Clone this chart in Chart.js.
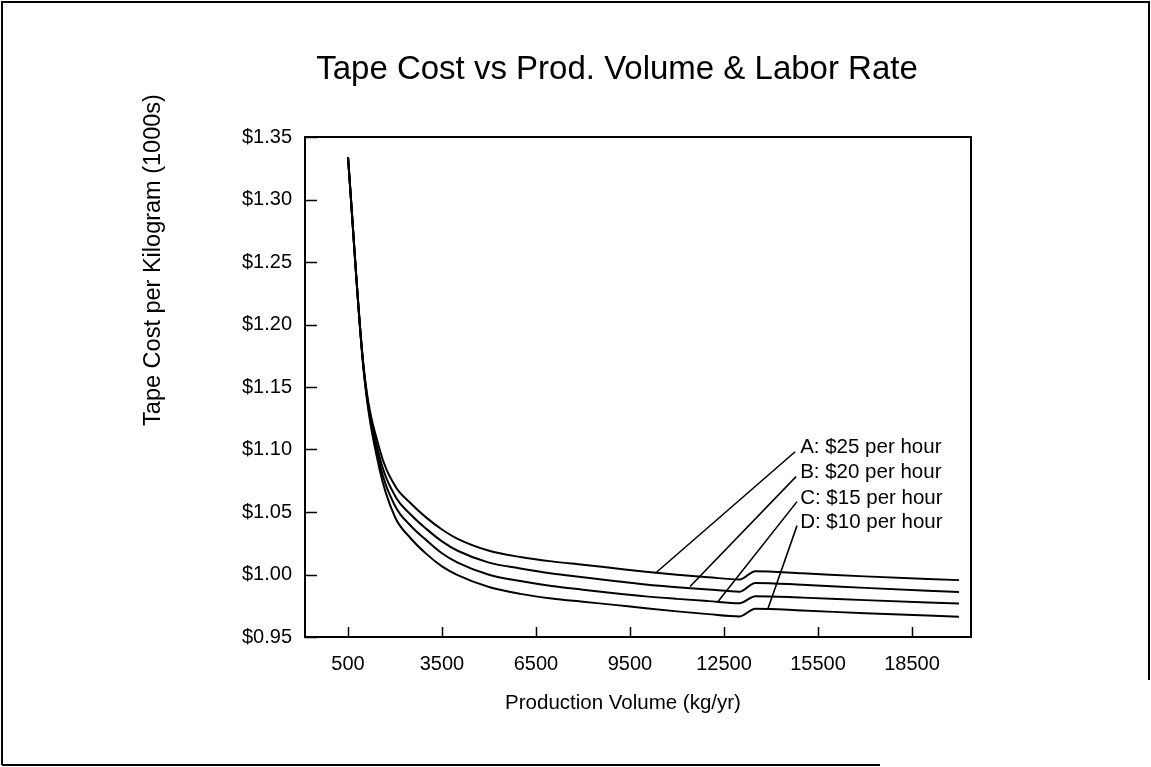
<!DOCTYPE html>
<html>
<head>
<meta charset="utf-8">
<script src="https://cdn.jsdelivr.net/npm/chart.js@4/dist/chart.umd.min.js"></script>
<style>
    html, body { margin: 0; padding: 0; background: #fff; }
    #wrap { width: 1151px; height: 767px; position: relative; }
</style>
</head>
<body>
<div id="wrap"><canvas id="tapeChart" width="1151" height="767"></canvas></div>
<script>
// production volume (kg/yr) and cost per kg for each labor rate
const volumes = [500, 1000, 1500, 2000, 2500, 3000, 3500, 4000, 5000, 6000, 7000, 8000, 9000, 10000, 11000, 12000, 13000, 13500, 15000, 17000, 20000];
const costA = [1.334, 1.166, 1.101, 1.071, 1.057, 1.0455, 1.036, 1.0285, 1.019, 1.014, 1.0105, 1.0078, 1.0050, 1.0022, 0.9998, 0.9978, 0.996, 1.0027, 1.001, 0.9985, 0.9955];
const costB = [1.334, 1.165, 1.095, 1.063, 1.048, 1.0365, 1.0265, 1.019, 1.0095, 1.0048, 1.0008, 0.9978, 0.9948, 0.9920, 0.9898, 0.9880, 0.9863, 0.9933, 0.9918, 0.9893, 0.986];
const costC = [1.334, 1.164, 1.090, 1.055, 1.039, 1.0275, 1.017, 1.0095, 0.9998, 0.9948, 0.9908, 0.9878, 0.9850, 0.9825, 0.9805, 0.9787, 0.977, 0.9827, 0.9815, 0.9795, 0.9768];
const costD = [1.334, 1.163, 1.085, 1.046, 1.029, 1.0165, 1.0065, 0.9995, 0.990, 0.9845, 0.9808, 0.9782, 0.9757, 0.9730, 0.9705, 0.9683, 0.9665, 0.9726, 0.9712, 0.969, 0.9662];

const xTicks = [500, 3500, 6500, 9500, 12500, 15500, 18500];
const yTicks = [0.95, 1.00, 1.05, 1.10, 1.15, 1.20, 1.25, 1.30, 1.35];

// callout labels and their leader lines (data units)
const rateLabels = ['A: $25 per hour', 'B: $20 per hour', 'C: $15 per hour', 'D: $10 per hour'];
const labelV = [14930, 14930, 14930, 14930];
const labelCost = [1.1014, 1.0815, 1.0607, 1.0415];
const leaderFromV = [14770, 14800, 14830, 14830];
const leaderFromCost = [1.0982, 1.0783, 1.0583, 1.0391];
const leaderToV = [10300, 11416, 12310, 13905];
const leaderToCost = [1.0008, 0.9904, 0.9784, 0.9728];

const FONT = '"Liberation Sans", Arial, Helvetica, sans-serif';

function series(vals) {
    return volumes.map((v, i) => ({x: v, y: vals[i]}));
}

function lineSet(label, vals) {
    return {
        label: label,
        data: series(vals),
        borderColor: '#000',
        borderWidth: 2,
        pointRadius: 0,
        cubicInterpolationMode: 'monotone',
        fill: false
    };
}

const decorations = {
    id: 'decorations',
    beforeDraw(chart) {
        const ctx = chart.ctx;
        ctx.save();
        ctx.fillStyle = '#fff';
        ctx.fillRect(0, 0, chart.width, chart.height);
        // outer frame
        ctx.strokeStyle = '#000';
        ctx.lineWidth = 2;
        ctx.beginPath();
        ctx.moveTo(2, 765); ctx.lineTo(2, 2); ctx.lineTo(1149, 2); ctx.lineTo(1149, 680);
        ctx.moveTo(2, 765); ctx.lineTo(880, 765);
        ctx.stroke();
        ctx.restore();
    },
    afterDraw(chart) {
        const ctx = chart.ctx;
        const a = chart.chartArea;
        const xs = chart.scales.x, ys = chart.scales.y;
        ctx.save();
        ctx.strokeStyle = '#000';
        ctx.fillStyle = '#000';

        // plot box
        ctx.lineWidth = 2;
        ctx.strokeRect(a.left, a.top, a.right - a.left, a.bottom - a.top);

        // inside tick marks
        ctx.lineWidth = 1.5;
        ctx.beginPath();
        yTicks.forEach(v => {
            const py = Math.round(ys.getPixelForValue(v)) + 0.5;
            ctx.moveTo(a.left, py); ctx.lineTo(a.left + 12, py);
        });
        xTicks.forEach(v => {
            const px = Math.round(xs.getPixelForValue(v)) + 0.5;
            ctx.moveTo(px, a.bottom); ctx.lineTo(px, a.bottom - 10);
        });
        ctx.stroke();

        // leader lines
        ctx.lineWidth = 1.6;
        ctx.beginPath();
        leaderFromV.forEach((v, i) => {
            ctx.moveTo(xs.getPixelForValue(v), ys.getPixelForValue(leaderFromCost[i]));
            ctx.lineTo(xs.getPixelForValue(leaderToV[i]), ys.getPixelForValue(leaderToCost[i]));
        });
        ctx.stroke();

        // callout text
        ctx.font = '20.5px ' + FONT;
        ctx.textAlign = 'left';
        ctx.textBaseline = 'middle';
        rateLabels.forEach((t, i) => {
            ctx.fillText(t, xs.getPixelForValue(labelV[i]), ys.getPixelForValue(labelCost[i]));
        });

        // titles
        ctx.textAlign = 'center';
        ctx.font = '33px ' + FONT;
        ctx.fillText('Tape Cost vs Prod. Volume & Labor Rate', 617, 70);
        ctx.font = '20.5px ' + FONT;
        ctx.fillText('Production Volume (kg/yr)', 623, 703);
        ctx.translate(154, 260);
        ctx.rotate(-Math.PI / 2);
        ctx.font = '23.5px ' + FONT;
        ctx.fillText('Tape Cost per Kilogram (1000s)', 0, 0);
        ctx.restore();
    }
};

const ctx = document.getElementById('tapeChart').getContext('2d');
new Chart(ctx, {
    type: 'line',
    data: {
        datasets: [
            lineSet('A', costA),
            lineSet('B', costB),
            lineSet('C', costC),
            lineSet('D', costD)
        ]
    },
    options: {
        responsive: false,
        animation: false,
        devicePixelRatio: 1,
        layout: {padding: {top: 137, right: 180, left: 0, bottom: 0}},
        plugins: {legend: {display: false}, tooltip: {enabled: false}},
        scales: {
            x: {
                type: 'linear',
                min: -872,
                max: 20383,
                grid: {display: false},
                border: {display: false},
                afterBuildTicks: s => { s.ticks = xTicks.map(v => ({value: v})); },
                afterFit: s => { s.height = 130; },
                ticks: {
                    color: '#000',
                    padding: 7,
                    maxRotation: 0,
                    autoSkip: false,
                    font: {family: FONT, size: 20},
                    callback: v => String(v)
                }
            },
            y: {
                min: 0.95,
                max: 1.35,
                grid: {display: false},
                border: {display: false},
                afterBuildTicks: s => { s.ticks = yTicks.map(v => ({value: v})); },
                afterFit: s => { s.width = 305; },
                ticks: {
                    color: '#000',
                    padding: 5,
                    autoSkip: false,
                    font: {family: FONT, size: 20},
                    callback: v => '$' + v.toFixed(2)
                }
            }
        }
    },
    plugins: [decorations]
});
</script>
</body>
</html>
